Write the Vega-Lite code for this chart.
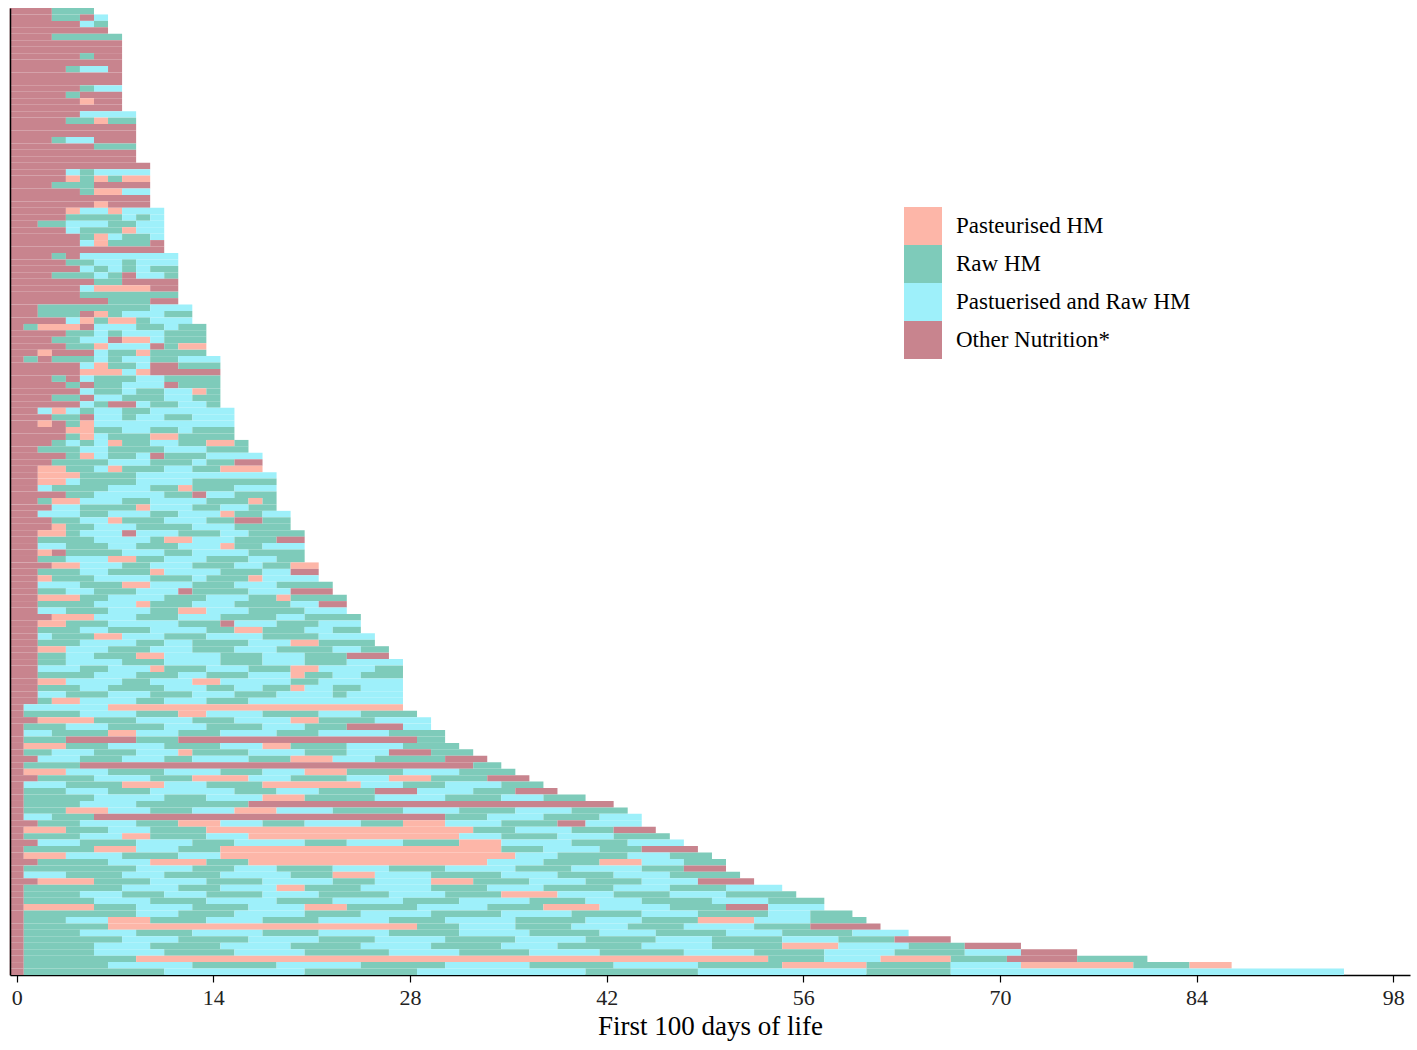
{
  "$schema": "https://vega.github.io/schema/vega-lite/v6.json",
  "width": 1400,
  "height": 967,
  "autosize": {"type": "none"},
  "padding": {"left": 10, "top": 8, "right": 7, "bottom": 75},
  "background": "white",
  "config": {
    "view": {"stroke": null},
    "font": "Liberation Serif"
  },
  "data": {
    "values": [
      {"r":0,"s":0,"e":2,"c":"O"},{"r":0,"s":3,"e":5,"c":"R"},
      {"r":1,"s":0,"e":2,"c":"O"},{"r":1,"s":3,"e":4,"c":"R"},{"r":1,"s":5,"e":5,"c":"O"},{"r":1,"s":6,"e":6,"c":"M"},
      {"r":2,"s":0,"e":4,"c":"O"},{"r":2,"s":5,"e":5,"c":"M"},{"r":2,"s":6,"e":6,"c":"R"},
      {"r":3,"s":0,"e":6,"c":"O"},
      {"r":4,"s":0,"e":2,"c":"O"},{"r":4,"s":3,"e":7,"c":"R"},
      {"r":5,"s":0,"e":7,"c":"O"},
      {"r":6,"s":0,"e":7,"c":"O"},
      {"r":7,"s":0,"e":4,"c":"O"},{"r":7,"s":5,"e":5,"c":"R"},{"r":7,"s":6,"e":7,"c":"O"},
      {"r":8,"s":0,"e":7,"c":"O"},
      {"r":9,"s":0,"e":3,"c":"O"},{"r":9,"s":4,"e":4,"c":"R"},{"r":9,"s":5,"e":6,"c":"M"},{"r":9,"s":7,"e":7,"c":"O"},
      {"r":10,"s":0,"e":7,"c":"O"},
      {"r":11,"s":0,"e":7,"c":"O"},
      {"r":12,"s":0,"e":4,"c":"O"},{"r":12,"s":5,"e":5,"c":"R"},{"r":12,"s":6,"e":7,"c":"M"},
      {"r":13,"s":0,"e":3,"c":"O"},{"r":13,"s":4,"e":4,"c":"R"},{"r":13,"s":5,"e":7,"c":"O"},
      {"r":14,"s":0,"e":4,"c":"O"},{"r":14,"s":5,"e":5,"c":"P"},{"r":14,"s":6,"e":7,"c":"O"},
      {"r":15,"s":0,"e":7,"c":"O"},
      {"r":16,"s":0,"e":4,"c":"O"},{"r":16,"s":5,"e":8,"c":"M"},
      {"r":17,"s":0,"e":3,"c":"O"},{"r":17,"s":4,"e":5,"c":"R"},{"r":17,"s":6,"e":6,"c":"P"},{"r":17,"s":7,"e":8,"c":"R"},
      {"r":18,"s":0,"e":8,"c":"O"},
      {"r":19,"s":0,"e":8,"c":"O"},
      {"r":20,"s":0,"e":2,"c":"O"},{"r":20,"s":3,"e":3,"c":"R"},{"r":20,"s":4,"e":5,"c":"M"},{"r":20,"s":6,"e":8,"c":"O"},
      {"r":21,"s":0,"e":5,"c":"O"},{"r":21,"s":6,"e":8,"c":"R"},
      {"r":22,"s":0,"e":8,"c":"O"},
      {"r":23,"s":0,"e":8,"c":"O"},
      {"r":24,"s":0,"e":9,"c":"O"},
      {"r":25,"s":0,"e":3,"c":"O"},{"r":25,"s":4,"e":4,"c":"M"},{"r":25,"s":5,"e":5,"c":"R"},{"r":25,"s":6,"e":9,"c":"M"},
      {"r":26,"s":0,"e":3,"c":"O"},{"r":26,"s":4,"e":4,"c":"P"},{"r":26,"s":5,"e":5,"c":"R"},{"r":26,"s":6,"e":6,"c":"P"},{"r":26,"s":7,"e":7,"c":"R"},{"r":26,"s":8,"e":9,"c":"P"},
      {"r":27,"s":0,"e":2,"c":"O"},{"r":27,"s":3,"e":5,"c":"R"},{"r":27,"s":6,"e":9,"c":"O"},
      {"r":28,"s":0,"e":4,"c":"O"},{"r":28,"s":5,"e":5,"c":"R"},{"r":28,"s":6,"e":7,"c":"P"},{"r":28,"s":8,"e":9,"c":"M"},
      {"r":29,"s":0,"e":9,"c":"O"},
      {"r":30,"s":0,"e":5,"c":"O"},{"r":30,"s":6,"e":6,"c":"P"},{"r":30,"s":7,"e":9,"c":"O"},
      {"r":31,"s":0,"e":3,"c":"O"},{"r":31,"s":4,"e":4,"c":"P"},{"r":31,"s":5,"e":6,"c":"M"},{"r":31,"s":7,"e":7,"c":"P"},{"r":31,"s":8,"e":10,"c":"M"},
      {"r":32,"s":0,"e":3,"c":"O"},{"r":32,"s":4,"e":7,"c":"R"},{"r":32,"s":8,"e":8,"c":"M"},{"r":32,"s":9,"e":9,"c":"R"},{"r":32,"s":10,"e":10,"c":"M"},
      {"r":33,"s":0,"e":1,"c":"O"},{"r":33,"s":2,"e":3,"c":"R"},{"r":33,"s":4,"e":6,"c":"M"},{"r":33,"s":7,"e":8,"c":"R"},{"r":33,"s":9,"e":10,"c":"M"},
      {"r":34,"s":0,"e":3,"c":"O"},{"r":34,"s":4,"e":4,"c":"M"},{"r":34,"s":5,"e":7,"c":"R"},{"r":34,"s":8,"e":8,"c":"P"},{"r":34,"s":9,"e":10,"c":"M"},
      {"r":35,"s":0,"e":4,"c":"O"},{"r":35,"s":5,"e":5,"c":"R"},{"r":35,"s":6,"e":6,"c":"P"},{"r":35,"s":7,"e":7,"c":"M"},{"r":35,"s":8,"e":9,"c":"R"},{"r":35,"s":10,"e":10,"c":"M"},
      {"r":36,"s":0,"e":4,"c":"O"},{"r":36,"s":5,"e":5,"c":"M"},{"r":36,"s":6,"e":6,"c":"P"},{"r":36,"s":7,"e":9,"c":"R"},{"r":36,"s":10,"e":10,"c":"O"},
      {"r":37,"s":0,"e":10,"c":"O"},
      {"r":38,"s":0,"e":2,"c":"O"},{"r":38,"s":3,"e":3,"c":"R"},{"r":38,"s":4,"e":4,"c":"O"},{"r":38,"s":5,"e":11,"c":"M"},
      {"r":39,"s":0,"e":3,"c":"O"},{"r":39,"s":4,"e":5,"c":"R"},{"r":39,"s":6,"e":7,"c":"M"},{"r":39,"s":8,"e":8,"c":"R"},{"r":39,"s":9,"e":11,"c":"M"},
      {"r":40,"s":0,"e":4,"c":"O"},{"r":40,"s":5,"e":5,"c":"M"},{"r":40,"s":6,"e":6,"c":"R"},{"r":40,"s":7,"e":7,"c":"M"},{"r":40,"s":8,"e":8,"c":"R"},{"r":40,"s":9,"e":9,"c":"M"},{"r":40,"s":10,"e":11,"c":"R"},
      {"r":41,"s":0,"e":2,"c":"O"},{"r":41,"s":3,"e":5,"c":"R"},{"r":41,"s":6,"e":6,"c":"M"},{"r":41,"s":7,"e":7,"c":"R"},{"r":41,"s":8,"e":8,"c":"O"},{"r":41,"s":9,"e":10,"c":"M"},{"r":41,"s":11,"e":11,"c":"R"},
      {"r":42,"s":0,"e":5,"c":"O"},{"r":42,"s":6,"e":7,"c":"R"},{"r":42,"s":8,"e":11,"c":"O"},
      {"r":43,"s":0,"e":4,"c":"O"},{"r":43,"s":5,"e":5,"c":"M"},{"r":43,"s":6,"e":9,"c":"P"},{"r":43,"s":10,"e":11,"c":"O"},
      {"r":44,"s":0,"e":4,"c":"O"},{"r":44,"s":5,"e":11,"c":"R"},
      {"r":45,"s":0,"e":6,"c":"O"},{"r":45,"s":7,"e":9,"c":"R"},{"r":45,"s":10,"e":11,"c":"O"},
      {"r":46,"s":0,"e":1,"c":"O"},{"r":46,"s":2,"e":9,"c":"R"},{"r":46,"s":10,"e":12,"c":"M"},
      {"r":47,"s":0,"e":1,"c":"O"},{"r":47,"s":2,"e":4,"c":"R"},{"r":47,"s":5,"e":5,"c":"O"},{"r":47,"s":6,"e":6,"c":"P"},{"r":47,"s":7,"e":7,"c":"R"},{"r":47,"s":8,"e":10,"c":"M"},{"r":47,"s":11,"e":12,"c":"R"},
      {"r":48,"s":0,"e":3,"c":"O"},{"r":48,"s":4,"e":4,"c":"M"},{"r":48,"s":5,"e":5,"c":"P"},{"r":48,"s":6,"e":6,"c":"R"},{"r":48,"s":7,"e":8,"c":"P"},{"r":48,"s":9,"e":9,"c":"R"},{"r":48,"s":10,"e":12,"c":"M"},
      {"r":49,"s":0,"e":0,"c":"O"},{"r":49,"s":1,"e":1,"c":"R"},{"r":49,"s":2,"e":4,"c":"P"},{"r":49,"s":5,"e":5,"c":"O"},{"r":49,"s":6,"e":8,"c":"M"},{"r":49,"s":9,"e":10,"c":"R"},{"r":49,"s":11,"e":11,"c":"M"},{"r":49,"s":12,"e":13,"c":"R"},
      {"r":50,"s":0,"e":3,"c":"O"},{"r":50,"s":4,"e":5,"c":"R"},{"r":50,"s":6,"e":6,"c":"M"},{"r":50,"s":7,"e":7,"c":"R"},{"r":50,"s":8,"e":10,"c":"M"},{"r":50,"s":11,"e":13,"c":"R"},
      {"r":51,"s":0,"e":2,"c":"O"},{"r":51,"s":3,"e":4,"c":"R"},{"r":51,"s":5,"e":6,"c":"M"},{"r":51,"s":7,"e":7,"c":"O"},{"r":51,"s":8,"e":9,"c":"P"},{"r":51,"s":10,"e":10,"c":"M"},{"r":51,"s":11,"e":13,"c":"R"},
      {"r":52,"s":0,"e":3,"c":"O"},{"r":52,"s":4,"e":5,"c":"R"},{"r":52,"s":6,"e":6,"c":"P"},{"r":52,"s":7,"e":9,"c":"M"},{"r":52,"s":10,"e":10,"c":"O"},{"r":52,"s":11,"e":11,"c":"R"},{"r":52,"s":12,"e":13,"c":"P"},
      {"r":53,"s":0,"e":1,"c":"O"},{"r":53,"s":2,"e":2,"c":"P"},{"r":53,"s":3,"e":5,"c":"O"},{"r":53,"s":6,"e":6,"c":"M"},{"r":53,"s":7,"e":8,"c":"R"},{"r":53,"s":9,"e":9,"c":"P"},{"r":53,"s":10,"e":13,"c":"R"},
      {"r":54,"s":0,"e":0,"c":"O"},{"r":54,"s":1,"e":1,"c":"R"},{"r":54,"s":2,"e":2,"c":"O"},{"r":54,"s":3,"e":5,"c":"R"},{"r":54,"s":6,"e":6,"c":"M"},{"r":54,"s":7,"e":7,"c":"R"},{"r":54,"s":8,"e":9,"c":"M"},{"r":54,"s":10,"e":11,"c":"R"},{"r":54,"s":12,"e":14,"c":"M"},
      {"r":55,"s":0,"e":4,"c":"O"},{"r":55,"s":5,"e":5,"c":"M"},{"r":55,"s":6,"e":6,"c":"P"},{"r":55,"s":7,"e":8,"c":"R"},{"r":55,"s":9,"e":9,"c":"M"},{"r":55,"s":10,"e":11,"c":"O"},{"r":55,"s":12,"e":14,"c":"R"},
      {"r":56,"s":0,"e":4,"c":"O"},{"r":56,"s":5,"e":7,"c":"P"},{"r":56,"s":8,"e":8,"c":"M"},{"r":56,"s":9,"e":9,"c":"P"},{"r":56,"s":10,"e":14,"c":"O"},
      {"r":57,"s":0,"e":2,"c":"O"},{"r":57,"s":3,"e":3,"c":"R"},{"r":57,"s":4,"e":4,"c":"O"},{"r":57,"s":5,"e":5,"c":"M"},{"r":57,"s":6,"e":8,"c":"R"},{"r":57,"s":9,"e":10,"c":"M"},{"r":57,"s":11,"e":14,"c":"R"},
      {"r":58,"s":0,"e":3,"c":"O"},{"r":58,"s":4,"e":4,"c":"R"},{"r":58,"s":5,"e":5,"c":"O"},{"r":58,"s":6,"e":7,"c":"R"},{"r":58,"s":8,"e":10,"c":"M"},{"r":58,"s":11,"e":11,"c":"O"},{"r":58,"s":12,"e":14,"c":"R"},
      {"r":59,"s":0,"e":4,"c":"O"},{"r":59,"s":5,"e":5,"c":"M"},{"r":59,"s":6,"e":7,"c":"R"},{"r":59,"s":8,"e":8,"c":"M"},{"r":59,"s":9,"e":10,"c":"R"},{"r":59,"s":11,"e":12,"c":"M"},{"r":59,"s":13,"e":13,"c":"P"},{"r":59,"s":14,"e":14,"c":"R"},
      {"r":60,"s":0,"e":2,"c":"O"},{"r":60,"s":3,"e":4,"c":"R"},{"r":60,"s":5,"e":5,"c":"O"},{"r":60,"s":6,"e":7,"c":"M"},{"r":60,"s":8,"e":10,"c":"R"},{"r":60,"s":11,"e":12,"c":"M"},{"r":60,"s":13,"e":14,"c":"R"},
      {"r":61,"s":0,"e":4,"c":"O"},{"r":61,"s":5,"e":5,"c":"M"},{"r":61,"s":6,"e":6,"c":"R"},{"r":61,"s":7,"e":8,"c":"O"},{"r":61,"s":9,"e":9,"c":"M"},{"r":61,"s":10,"e":11,"c":"R"},{"r":61,"s":12,"e":13,"c":"M"},{"r":61,"s":14,"e":14,"c":"R"},
      {"r":62,"s":0,"e":1,"c":"O"},{"r":62,"s":2,"e":2,"c":"M"},{"r":62,"s":3,"e":3,"c":"P"},{"r":62,"s":4,"e":4,"c":"M"},{"r":62,"s":5,"e":5,"c":"R"},{"r":62,"s":6,"e":7,"c":"M"},{"r":62,"s":8,"e":9,"c":"R"},{"r":62,"s":10,"e":15,"c":"M"},
      {"r":63,"s":0,"e":2,"c":"O"},{"r":63,"s":3,"e":4,"c":"R"},{"r":63,"s":5,"e":5,"c":"O"},{"r":63,"s":6,"e":7,"c":"M"},{"r":63,"s":8,"e":8,"c":"R"},{"r":63,"s":9,"e":10,"c":"M"},{"r":63,"s":11,"e":12,"c":"R"},{"r":63,"s":13,"e":15,"c":"M"},
      {"r":64,"s":0,"e":1,"c":"O"},{"r":64,"s":2,"e":2,"c":"P"},{"r":64,"s":3,"e":3,"c":"O"},{"r":64,"s":4,"e":4,"c":"R"},{"r":64,"s":5,"e":5,"c":"P"},{"r":64,"s":6,"e":15,"c":"M"},
      {"r":65,"s":0,"e":3,"c":"O"},{"r":65,"s":4,"e":5,"c":"P"},{"r":65,"s":6,"e":7,"c":"R"},{"r":65,"s":8,"e":9,"c":"M"},{"r":65,"s":10,"e":11,"c":"R"},{"r":65,"s":12,"e":12,"c":"M"},{"r":65,"s":13,"e":15,"c":"R"},
      {"r":66,"s":0,"e":3,"c":"O"},{"r":66,"s":4,"e":4,"c":"R"},{"r":66,"s":5,"e":5,"c":"P"},{"r":66,"s":6,"e":6,"c":"M"},{"r":66,"s":7,"e":9,"c":"R"},{"r":66,"s":10,"e":11,"c":"P"},{"r":66,"s":12,"e":15,"c":"R"},
      {"r":67,"s":0,"e":2,"c":"O"},{"r":67,"s":3,"e":3,"c":"R"},{"r":67,"s":4,"e":4,"c":"M"},{"r":67,"s":5,"e":5,"c":"R"},{"r":67,"s":6,"e":6,"c":"M"},{"r":67,"s":7,"e":7,"c":"P"},{"r":67,"s":8,"e":9,"c":"R"},{"r":67,"s":10,"e":11,"c":"M"},{"r":67,"s":12,"e":13,"c":"R"},{"r":67,"s":14,"e":15,"c":"P"},{"r":67,"s":16,"e":16,"c":"R"},
      {"r":68,"s":0,"e":1,"c":"O"},{"r":68,"s":2,"e":4,"c":"R"},{"r":68,"s":5,"e":6,"c":"M"},{"r":68,"s":7,"e":10,"c":"R"},{"r":68,"s":11,"e":13,"c":"M"},{"r":68,"s":14,"e":16,"c":"R"},
      {"r":69,"s":0,"e":3,"c":"O"},{"r":69,"s":4,"e":4,"c":"R"},{"r":69,"s":5,"e":5,"c":"P"},{"r":69,"s":6,"e":6,"c":"M"},{"r":69,"s":7,"e":8,"c":"R"},{"r":69,"s":9,"e":9,"c":"M"},{"r":69,"s":10,"e":10,"c":"O"},{"r":69,"s":11,"e":13,"c":"R"},{"r":69,"s":14,"e":17,"c":"M"},
      {"r":70,"s":0,"e":2,"c":"O"},{"r":70,"s":3,"e":6,"c":"R"},{"r":70,"s":7,"e":9,"c":"M"},{"r":70,"s":10,"e":12,"c":"R"},{"r":70,"s":13,"e":13,"c":"M"},{"r":70,"s":14,"e":15,"c":"R"},{"r":70,"s":16,"e":17,"c":"O"},
      {"r":71,"s":0,"e":1,"c":"O"},{"r":71,"s":2,"e":3,"c":"P"},{"r":71,"s":4,"e":5,"c":"R"},{"r":71,"s":6,"e":6,"c":"M"},{"r":71,"s":7,"e":7,"c":"P"},{"r":71,"s":8,"e":10,"c":"R"},{"r":71,"s":11,"e":12,"c":"M"},{"r":71,"s":13,"e":14,"c":"R"},{"r":71,"s":15,"e":17,"c":"P"},
      {"r":72,"s":0,"e":1,"c":"O"},{"r":72,"s":2,"e":4,"c":"P"},{"r":72,"s":5,"e":8,"c":"R"},{"r":72,"s":9,"e":18,"c":"M"},
      {"r":73,"s":0,"e":1,"c":"O"},{"r":73,"s":2,"e":3,"c":"P"},{"r":73,"s":4,"e":4,"c":"M"},{"r":73,"s":5,"e":8,"c":"R"},{"r":73,"s":9,"e":12,"c":"M"},{"r":73,"s":13,"e":18,"c":"R"},
      {"r":74,"s":0,"e":1,"c":"O"},{"r":74,"s":2,"e":2,"c":"M"},{"r":74,"s":3,"e":6,"c":"R"},{"r":74,"s":7,"e":9,"c":"M"},{"r":74,"s":10,"e":11,"c":"R"},{"r":74,"s":12,"e":12,"c":"P"},{"r":74,"s":13,"e":15,"c":"R"},{"r":74,"s":16,"e":18,"c":"M"},
      {"r":75,"s":0,"e":3,"c":"O"},{"r":75,"s":4,"e":5,"c":"R"},{"r":75,"s":6,"e":10,"c":"M"},{"r":75,"s":11,"e":12,"c":"R"},{"r":75,"s":13,"e":13,"c":"O"},{"r":75,"s":14,"e":15,"c":"M"},{"r":75,"s":16,"e":18,"c":"R"},
      {"r":76,"s":0,"e":1,"c":"O"},{"r":76,"s":2,"e":2,"c":"R"},{"r":76,"s":3,"e":4,"c":"P"},{"r":76,"s":5,"e":7,"c":"M"},{"r":76,"s":8,"e":9,"c":"R"},{"r":76,"s":10,"e":13,"c":"M"},{"r":76,"s":14,"e":16,"c":"R"},{"r":76,"s":17,"e":17,"c":"P"},{"r":76,"s":18,"e":18,"c":"R"},
      {"r":77,"s":0,"e":2,"c":"O"},{"r":77,"s":3,"e":4,"c":"M"},{"r":77,"s":5,"e":8,"c":"R"},{"r":77,"s":9,"e":9,"c":"P"},{"r":77,"s":10,"e":12,"c":"M"},{"r":77,"s":13,"e":14,"c":"R"},{"r":77,"s":15,"e":16,"c":"M"},{"r":77,"s":17,"e":18,"c":"R"},
      {"r":78,"s":0,"e":1,"c":"O"},{"r":78,"s":2,"e":4,"c":"M"},{"r":78,"s":5,"e":6,"c":"R"},{"r":78,"s":7,"e":9,"c":"M"},{"r":78,"s":10,"e":11,"c":"R"},{"r":78,"s":12,"e":14,"c":"M"},{"r":78,"s":15,"e":15,"c":"P"},{"r":78,"s":16,"e":17,"c":"R"},{"r":78,"s":18,"e":19,"c":"M"},
      {"r":79,"s":0,"e":2,"c":"O"},{"r":79,"s":3,"e":4,"c":"R"},{"r":79,"s":5,"e":6,"c":"M"},{"r":79,"s":7,"e":7,"c":"P"},{"r":79,"s":8,"e":10,"c":"R"},{"r":79,"s":11,"e":13,"c":"M"},{"r":79,"s":14,"e":15,"c":"R"},{"r":79,"s":16,"e":17,"c":"O"},{"r":79,"s":18,"e":19,"c":"R"},
      {"r":80,"s":0,"e":2,"c":"O"},{"r":80,"s":3,"e":3,"c":"P"},{"r":80,"s":4,"e":5,"c":"R"},{"r":80,"s":6,"e":8,"c":"M"},{"r":80,"s":9,"e":12,"c":"R"},{"r":80,"s":13,"e":15,"c":"M"},{"r":80,"s":16,"e":19,"c":"R"},
      {"r":81,"s":0,"e":1,"c":"O"},{"r":81,"s":2,"e":3,"c":"P"},{"r":81,"s":4,"e":4,"c":"R"},{"r":81,"s":5,"e":7,"c":"M"},{"r":81,"s":8,"e":8,"c":"O"},{"r":81,"s":9,"e":11,"c":"M"},{"r":81,"s":12,"e":14,"c":"R"},{"r":81,"s":15,"e":16,"c":"M"},{"r":81,"s":17,"e":20,"c":"R"},
      {"r":82,"s":0,"e":1,"c":"O"},{"r":82,"s":2,"e":5,"c":"R"},{"r":82,"s":6,"e":9,"c":"M"},{"r":82,"s":10,"e":10,"c":"R"},{"r":82,"s":11,"e":12,"c":"P"},{"r":82,"s":13,"e":15,"c":"M"},{"r":82,"s":16,"e":18,"c":"R"},{"r":82,"s":19,"e":20,"c":"O"},
      {"r":83,"s":0,"e":1,"c":"O"},{"r":83,"s":2,"e":3,"c":"M"},{"r":83,"s":4,"e":6,"c":"R"},{"r":83,"s":7,"e":8,"c":"M"},{"r":83,"s":9,"e":11,"c":"R"},{"r":83,"s":12,"e":14,"c":"M"},{"r":83,"s":15,"e":15,"c":"P"},{"r":83,"s":16,"e":17,"c":"R"},{"r":83,"s":18,"e":20,"c":"M"},
      {"r":84,"s":0,"e":1,"c":"O"},{"r":84,"s":2,"e":2,"c":"P"},{"r":84,"s":3,"e":3,"c":"O"},{"r":84,"s":4,"e":7,"c":"R"},{"r":84,"s":8,"e":10,"c":"M"},{"r":84,"s":11,"e":12,"c":"R"},{"r":84,"s":13,"e":16,"c":"M"},{"r":84,"s":17,"e":20,"c":"R"},
      {"r":85,"s":0,"e":1,"c":"O"},{"r":85,"s":2,"e":3,"c":"R"},{"r":85,"s":4,"e":6,"c":"M"},{"r":85,"s":7,"e":8,"c":"P"},{"r":85,"s":9,"e":10,"c":"R"},{"r":85,"s":11,"e":13,"c":"M"},{"r":85,"s":14,"e":16,"c":"R"},{"r":85,"s":17,"e":18,"c":"M"},{"r":85,"s":19,"e":20,"c":"R"},
      {"r":86,"s":0,"e":2,"c":"O"},{"r":86,"s":3,"e":4,"c":"P"},{"r":86,"s":5,"e":7,"c":"M"},{"r":86,"s":8,"e":9,"c":"R"},{"r":86,"s":10,"e":12,"c":"M"},{"r":86,"s":13,"e":15,"c":"R"},{"r":86,"s":16,"e":17,"c":"M"},{"r":86,"s":18,"e":19,"c":"R"},{"r":86,"s":20,"e":21,"c":"P"},
      {"r":87,"s":0,"e":1,"c":"O"},{"r":87,"s":2,"e":4,"c":"R"},{"r":87,"s":5,"e":6,"c":"M"},{"r":87,"s":7,"e":9,"c":"R"},{"r":87,"s":10,"e":10,"c":"P"},{"r":87,"s":11,"e":14,"c":"M"},{"r":87,"s":15,"e":17,"c":"R"},{"r":87,"s":18,"e":19,"c":"M"},{"r":87,"s":20,"e":21,"c":"O"},
      {"r":88,"s":0,"e":1,"c":"O"},{"r":88,"s":2,"e":2,"c":"P"},{"r":88,"s":3,"e":5,"c":"R"},{"r":88,"s":6,"e":9,"c":"M"},{"r":88,"s":10,"e":12,"c":"R"},{"r":88,"s":13,"e":13,"c":"M"},{"r":88,"s":14,"e":16,"c":"R"},{"r":88,"s":17,"e":17,"c":"P"},{"r":88,"s":18,"e":21,"c":"M"},
      {"r":89,"s":0,"e":1,"c":"O"},{"r":89,"s":2,"e":4,"c":"M"},{"r":89,"s":5,"e":7,"c":"R"},{"r":89,"s":8,"e":9,"c":"P"},{"r":89,"s":10,"e":12,"c":"M"},{"r":89,"s":13,"e":15,"c":"R"},{"r":89,"s":16,"e":18,"c":"M"},{"r":89,"s":19,"e":22,"c":"R"},
      {"r":90,"s":0,"e":1,"c":"O"},{"r":90,"s":2,"e":3,"c":"R"},{"r":90,"s":4,"e":5,"c":"M"},{"r":90,"s":6,"e":8,"c":"R"},{"r":90,"s":9,"e":11,"c":"M"},{"r":90,"s":12,"e":12,"c":"O"},{"r":90,"s":13,"e":16,"c":"R"},{"r":90,"s":17,"e":19,"c":"M"},{"r":90,"s":20,"e":22,"c":"O"},
      {"r":91,"s":0,"e":1,"c":"O"},{"r":91,"s":2,"e":4,"c":"P"},{"r":91,"s":5,"e":6,"c":"R"},{"r":91,"s":7,"e":10,"c":"M"},{"r":91,"s":11,"e":13,"c":"R"},{"r":91,"s":14,"e":16,"c":"M"},{"r":91,"s":17,"e":18,"c":"R"},{"r":91,"s":19,"e":19,"c":"P"},{"r":91,"s":20,"e":23,"c":"R"},
      {"r":92,"s":0,"e":1,"c":"O"},{"r":92,"s":2,"e":5,"c":"R"},{"r":92,"s":6,"e":8,"c":"M"},{"r":92,"s":9,"e":9,"c":"P"},{"r":92,"s":10,"e":12,"c":"R"},{"r":92,"s":13,"e":15,"c":"M"},{"r":92,"s":16,"e":19,"c":"R"},{"r":92,"s":20,"e":21,"c":"M"},{"r":92,"s":22,"e":23,"c":"O"},
      {"r":93,"s":0,"e":1,"c":"O"},{"r":93,"s":2,"e":3,"c":"M"},{"r":93,"s":4,"e":6,"c":"R"},{"r":93,"s":7,"e":9,"c":"M"},{"r":93,"s":10,"e":11,"c":"R"},{"r":93,"s":12,"e":13,"c":"P"},{"r":93,"s":14,"e":16,"c":"M"},{"r":93,"s":17,"e":20,"c":"R"},{"r":93,"s":21,"e":23,"c":"M"},
      {"r":94,"s":0,"e":2,"c":"O"},{"r":94,"s":3,"e":5,"c":"P"},{"r":94,"s":6,"e":8,"c":"M"},{"r":94,"s":9,"e":11,"c":"R"},{"r":94,"s":12,"e":14,"c":"M"},{"r":94,"s":15,"e":18,"c":"R"},{"r":94,"s":19,"e":20,"c":"M"},{"r":94,"s":21,"e":24,"c":"R"},
      {"r":95,"s":0,"e":1,"c":"O"},{"r":95,"s":2,"e":3,"c":"P"},{"r":95,"s":4,"e":6,"c":"R"},{"r":95,"s":7,"e":11,"c":"M"},{"r":95,"s":12,"e":14,"c":"R"},{"r":95,"s":15,"e":15,"c":"O"},{"r":95,"s":16,"e":18,"c":"M"},{"r":95,"s":19,"e":21,"c":"R"},{"r":95,"s":22,"e":24,"c":"M"},
      {"r":96,"s":0,"e":1,"c":"O"},{"r":96,"s":2,"e":4,"c":"R"},{"r":96,"s":5,"e":6,"c":"M"},{"r":96,"s":7,"e":9,"c":"R"},{"r":96,"s":10,"e":13,"c":"M"},{"r":96,"s":14,"e":15,"c":"R"},{"r":96,"s":16,"e":17,"c":"P"},{"r":96,"s":18,"e":20,"c":"R"},{"r":96,"s":21,"e":22,"c":"M"},{"r":96,"s":23,"e":24,"c":"R"},
      {"r":97,"s":0,"e":1,"c":"O"},{"r":97,"s":2,"e":2,"c":"M"},{"r":97,"s":3,"e":5,"c":"R"},{"r":97,"s":6,"e":7,"c":"P"},{"r":97,"s":8,"e":10,"c":"M"},{"r":97,"s":11,"e":13,"c":"R"},{"r":97,"s":14,"e":17,"c":"M"},{"r":97,"s":18,"e":21,"c":"R"},{"r":97,"s":22,"e":25,"c":"M"},
      {"r":98,"s":0,"e":1,"c":"O"},{"r":98,"s":2,"e":4,"c":"R"},{"r":98,"s":5,"e":8,"c":"M"},{"r":98,"s":9,"e":10,"c":"R"},{"r":98,"s":11,"e":12,"c":"M"},{"r":98,"s":13,"e":16,"c":"R"},{"r":98,"s":17,"e":19,"c":"M"},{"r":98,"s":20,"e":21,"c":"P"},{"r":98,"s":22,"e":25,"c":"R"},
      {"r":99,"s":0,"e":1,"c":"O"},{"r":99,"s":2,"e":3,"c":"P"},{"r":99,"s":4,"e":6,"c":"M"},{"r":99,"s":7,"e":9,"c":"R"},{"r":99,"s":10,"e":12,"c":"M"},{"r":99,"s":13,"e":15,"c":"R"},{"r":99,"s":16,"e":18,"c":"M"},{"r":99,"s":19,"e":22,"c":"R"},{"r":99,"s":23,"e":24,"c":"M"},{"r":99,"s":25,"e":26,"c":"R"},
      {"r":100,"s":0,"e":1,"c":"O"},{"r":100,"s":2,"e":3,"c":"R"},{"r":100,"s":4,"e":5,"c":"M"},{"r":100,"s":6,"e":8,"c":"R"},{"r":100,"s":9,"e":10,"c":"P"},{"r":100,"s":11,"e":14,"c":"M"},{"r":100,"s":15,"e":17,"c":"R"},{"r":100,"s":18,"e":20,"c":"M"},{"r":100,"s":21,"e":23,"c":"R"},{"r":100,"s":24,"e":26,"c":"O"},
      {"r":101,"s":0,"e":1,"c":"O"},{"r":101,"s":2,"e":3,"c":"R"},{"r":101,"s":4,"e":7,"c":"M"},{"r":101,"s":8,"e":10,"c":"R"},{"r":101,"s":11,"e":14,"c":"M"},{"r":101,"s":15,"e":17,"c":"R"},{"r":101,"s":18,"e":20,"c":"M"},{"r":101,"s":21,"e":23,"c":"R"},{"r":101,"s":24,"e":27,"c":"M"},
      {"r":102,"s":0,"e":1,"c":"O"},{"r":102,"s":2,"e":4,"c":"M"},{"r":102,"s":5,"e":6,"c":"R"},{"r":102,"s":7,"e":9,"c":"M"},{"r":102,"s":10,"e":10,"c":"P"},{"r":102,"s":11,"e":13,"c":"R"},{"r":102,"s":14,"e":16,"c":"M"},{"r":102,"s":17,"e":19,"c":"R"},{"r":102,"s":20,"e":21,"c":"P"},{"r":102,"s":22,"e":25,"c":"M"},{"r":102,"s":26,"e":27,"c":"R"},
      {"r":103,"s":0,"e":1,"c":"O"},{"r":103,"s":2,"e":5,"c":"R"},{"r":103,"s":6,"e":8,"c":"M"},{"r":103,"s":9,"e":11,"c":"R"},{"r":103,"s":12,"e":13,"c":"M"},{"r":103,"s":14,"e":16,"c":"R"},{"r":103,"s":17,"e":19,"c":"M"},{"r":103,"s":20,"e":20,"c":"P"},{"r":103,"s":21,"e":22,"c":"R"},{"r":103,"s":23,"e":24,"c":"M"},{"r":103,"s":25,"e":27,"c":"R"},
      {"r":104,"s":0,"e":1,"c":"O"},{"r":104,"s":2,"e":3,"c":"P"},{"r":104,"s":4,"e":7,"c":"M"},{"r":104,"s":8,"e":9,"c":"R"},{"r":104,"s":10,"e":12,"c":"M"},{"r":104,"s":13,"e":14,"c":"P"},{"r":104,"s":15,"e":19,"c":"M"},{"r":104,"s":20,"e":21,"c":"R"},{"r":104,"s":22,"e":27,"c":"M"},
      {"r":105,"s":0,"e":1,"c":"O"},{"r":105,"s":2,"e":4,"c":"R"},{"r":105,"s":5,"e":6,"c":"M"},{"r":105,"s":7,"e":10,"c":"R"},{"r":105,"s":11,"e":13,"c":"M"},{"r":105,"s":14,"e":15,"c":"R"},{"r":105,"s":16,"e":17,"c":"M"},{"r":105,"s":18,"e":19,"c":"R"},{"r":105,"s":20,"e":20,"c":"P"},{"r":105,"s":21,"e":22,"c":"M"},{"r":105,"s":23,"e":24,"c":"R"},{"r":105,"s":25,"e":27,"c":"M"},
      {"r":106,"s":0,"e":1,"c":"O"},{"r":106,"s":2,"e":3,"c":"M"},{"r":106,"s":4,"e":6,"c":"R"},{"r":106,"s":7,"e":9,"c":"M"},{"r":106,"s":10,"e":12,"c":"R"},{"r":106,"s":13,"e":15,"c":"M"},{"r":106,"s":16,"e":18,"c":"R"},{"r":106,"s":19,"e":22,"c":"M"},{"r":106,"s":23,"e":23,"c":"R"},{"r":106,"s":24,"e":27,"c":"M"},
      {"r":107,"s":0,"e":1,"c":"O"},{"r":107,"s":2,"e":2,"c":"R"},{"r":107,"s":3,"e":4,"c":"P"},{"r":107,"s":5,"e":8,"c":"M"},{"r":107,"s":9,"e":10,"c":"R"},{"r":107,"s":11,"e":13,"c":"M"},{"r":107,"s":14,"e":16,"c":"R"},{"r":107,"s":17,"e":27,"c":"M"},
      {"r":108,"s":0,"e":0,"c":"O"},{"r":108,"s":1,"e":6,"c":"M"},{"r":108,"s":7,"e":27,"c":"P"},
      {"r":109,"s":0,"e":0,"c":"O"},{"r":109,"s":1,"e":4,"c":"R"},{"r":109,"s":5,"e":8,"c":"M"},{"r":109,"s":9,"e":11,"c":"R"},{"r":109,"s":12,"e":13,"c":"P"},{"r":109,"s":14,"e":17,"c":"M"},{"r":109,"s":18,"e":21,"c":"R"},{"r":109,"s":22,"e":24,"c":"M"},{"r":109,"s":25,"e":28,"c":"R"},
      {"r":110,"s":0,"e":1,"c":"O"},{"r":110,"s":2,"e":5,"c":"P"},{"r":110,"s":6,"e":8,"c":"R"},{"r":110,"s":9,"e":12,"c":"M"},{"r":110,"s":13,"e":15,"c":"R"},{"r":110,"s":16,"e":19,"c":"M"},{"r":110,"s":20,"e":21,"c":"P"},{"r":110,"s":22,"e":25,"c":"R"},{"r":110,"s":26,"e":29,"c":"M"},
      {"r":111,"s":0,"e":0,"c":"O"},{"r":111,"s":1,"e":3,"c":"R"},{"r":111,"s":4,"e":6,"c":"M"},{"r":111,"s":7,"e":10,"c":"R"},{"r":111,"s":11,"e":13,"c":"M"},{"r":111,"s":14,"e":17,"c":"R"},{"r":111,"s":18,"e":20,"c":"M"},{"r":111,"s":21,"e":23,"c":"R"},{"r":111,"s":24,"e":27,"c":"O"},{"r":111,"s":28,"e":29,"c":"M"},
      {"r":112,"s":0,"e":0,"c":"O"},{"r":112,"s":1,"e":2,"c":"M"},{"r":112,"s":3,"e":6,"c":"R"},{"r":112,"s":7,"e":8,"c":"P"},{"r":112,"s":9,"e":11,"c":"M"},{"r":112,"s":12,"e":14,"c":"R"},{"r":112,"s":15,"e":18,"c":"M"},{"r":112,"s":19,"e":21,"c":"R"},{"r":112,"s":22,"e":26,"c":"M"},{"r":112,"s":27,"e":30,"c":"R"},
      {"r":113,"s":0,"e":0,"c":"O"},{"r":113,"s":1,"e":3,"c":"R"},{"r":113,"s":4,"e":8,"c":"O"},{"r":113,"s":9,"e":11,"c":"R"},{"r":113,"s":12,"e":28,"c":"O"},{"r":113,"s":29,"e":30,"c":"R"},
      {"r":114,"s":0,"e":0,"c":"O"},{"r":114,"s":1,"e":3,"c":"P"},{"r":114,"s":4,"e":6,"c":"R"},{"r":114,"s":7,"e":10,"c":"M"},{"r":114,"s":11,"e":14,"c":"R"},{"r":114,"s":15,"e":17,"c":"M"},{"r":114,"s":18,"e":19,"c":"P"},{"r":114,"s":20,"e":23,"c":"R"},{"r":114,"s":24,"e":27,"c":"M"},{"r":114,"s":28,"e":31,"c":"R"},
      {"r":115,"s":0,"e":0,"c":"O"},{"r":115,"s":1,"e":2,"c":"R"},{"r":115,"s":3,"e":5,"c":"M"},{"r":115,"s":6,"e":8,"c":"R"},{"r":115,"s":9,"e":11,"c":"M"},{"r":115,"s":12,"e":12,"c":"P"},{"r":115,"s":13,"e":16,"c":"R"},{"r":115,"s":17,"e":20,"c":"M"},{"r":115,"s":21,"e":23,"c":"R"},{"r":115,"s":24,"e":26,"c":"M"},{"r":115,"s":27,"e":29,"c":"O"},{"r":115,"s":30,"e":32,"c":"R"},
      {"r":116,"s":0,"e":1,"c":"O"},{"r":116,"s":2,"e":4,"c":"M"},{"r":116,"s":5,"e":7,"c":"R"},{"r":116,"s":8,"e":10,"c":"M"},{"r":116,"s":11,"e":12,"c":"R"},{"r":116,"s":13,"e":16,"c":"M"},{"r":116,"s":17,"e":19,"c":"R"},{"r":116,"s":20,"e":22,"c":"P"},{"r":116,"s":23,"e":25,"c":"M"},{"r":116,"s":26,"e":30,"c":"R"},{"r":116,"s":31,"e":33,"c":"O"},
      {"r":117,"s":0,"e":0,"c":"O"},{"r":117,"s":1,"e":4,"c":"R"},{"r":117,"s":5,"e":32,"c":"O"},{"r":117,"s":33,"e":34,"c":"R"},
      {"r":118,"s":0,"e":0,"c":"O"},{"r":118,"s":1,"e":3,"c":"P"},{"r":118,"s":4,"e":6,"c":"M"},{"r":118,"s":7,"e":10,"c":"R"},{"r":118,"s":11,"e":14,"c":"M"},{"r":118,"s":15,"e":17,"c":"R"},{"r":118,"s":18,"e":20,"c":"M"},{"r":118,"s":21,"e":23,"c":"P"},{"r":118,"s":24,"e":27,"c":"R"},{"r":118,"s":28,"e":31,"c":"M"},{"r":118,"s":32,"e":35,"c":"R"},
      {"r":119,"s":0,"e":1,"c":"O"},{"r":119,"s":2,"e":5,"c":"R"},{"r":119,"s":6,"e":9,"c":"M"},{"r":119,"s":10,"e":12,"c":"R"},{"r":119,"s":13,"e":16,"c":"P"},{"r":119,"s":17,"e":19,"c":"M"},{"r":119,"s":20,"e":23,"c":"R"},{"r":119,"s":24,"e":26,"c":"M"},{"r":119,"s":27,"e":29,"c":"P"},{"r":119,"s":30,"e":33,"c":"R"},{"r":119,"s":34,"e":36,"c":"O"},
      {"r":120,"s":0,"e":0,"c":"O"},{"r":120,"s":1,"e":3,"c":"M"},{"r":120,"s":4,"e":7,"c":"R"},{"r":120,"s":8,"e":10,"c":"P"},{"r":120,"s":11,"e":13,"c":"M"},{"r":120,"s":14,"e":17,"c":"R"},{"r":120,"s":18,"e":24,"c":"P"},{"r":120,"s":25,"e":27,"c":"M"},{"r":120,"s":28,"e":30,"c":"R"},{"r":120,"s":31,"e":34,"c":"M"},{"r":120,"s":35,"e":37,"c":"R"},
      {"r":121,"s":0,"e":0,"c":"O"},{"r":121,"s":1,"e":3,"c":"R"},{"r":121,"s":4,"e":6,"c":"M"},{"r":121,"s":7,"e":9,"c":"R"},{"r":121,"s":10,"e":15,"c":"M"},{"r":121,"s":16,"e":18,"c":"R"},{"r":121,"s":19,"e":21,"c":"M"},{"r":121,"s":22,"e":25,"c":"R"},{"r":121,"s":26,"e":28,"c":"O"},{"r":121,"s":29,"e":32,"c":"M"},{"r":121,"s":33,"e":35,"c":"R"},{"r":121,"s":36,"e":38,"c":"O"},
      {"r":122,"s":0,"e":0,"c":"O"},{"r":122,"s":1,"e":5,"c":"R"},{"r":122,"s":6,"e":10,"c":"M"},{"r":122,"s":11,"e":13,"c":"R"},{"r":122,"s":14,"e":17,"c":"M"},{"r":122,"s":18,"e":20,"c":"P"},{"r":122,"s":21,"e":25,"c":"R"},{"r":122,"s":26,"e":30,"c":"M"},{"r":122,"s":31,"e":34,"c":"R"},{"r":122,"s":35,"e":37,"c":"M"},{"r":122,"s":38,"e":40,"c":"R"},
      {"r":123,"s":0,"e":0,"c":"O"},{"r":123,"s":1,"e":4,"c":"R"},{"r":123,"s":5,"e":8,"c":"M"},{"r":123,"s":9,"e":16,"c":"R"},{"r":123,"s":17,"e":42,"c":"O"},
      {"r":124,"s":0,"e":0,"c":"O"},{"r":124,"s":1,"e":3,"c":"R"},{"r":124,"s":4,"e":6,"c":"P"},{"r":124,"s":7,"e":9,"c":"M"},{"r":124,"s":10,"e":12,"c":"R"},{"r":124,"s":13,"e":15,"c":"M"},{"r":124,"s":16,"e":18,"c":"P"},{"r":124,"s":19,"e":22,"c":"M"},{"r":124,"s":23,"e":27,"c":"R"},{"r":124,"s":28,"e":31,"c":"M"},{"r":124,"s":32,"e":35,"c":"R"},{"r":124,"s":36,"e":39,"c":"M"},{"r":124,"s":40,"e":43,"c":"R"},
      {"r":125,"s":0,"e":0,"c":"O"},{"r":125,"s":1,"e":2,"c":"M"},{"r":125,"s":3,"e":5,"c":"R"},{"r":125,"s":6,"e":30,"c":"O"},{"r":125,"s":31,"e":33,"c":"R"},{"r":125,"s":34,"e":37,"c":"M"},{"r":125,"s":38,"e":41,"c":"R"},{"r":125,"s":42,"e":44,"c":"M"},
      {"r":126,"s":0,"e":1,"c":"O"},{"r":126,"s":2,"e":4,"c":"R"},{"r":126,"s":5,"e":8,"c":"M"},{"r":126,"s":9,"e":11,"c":"R"},{"r":126,"s":12,"e":14,"c":"P"},{"r":126,"s":15,"e":17,"c":"M"},{"r":126,"s":18,"e":20,"c":"R"},{"r":126,"s":21,"e":24,"c":"M"},{"r":126,"s":25,"e":27,"c":"R"},{"r":126,"s":28,"e":30,"c":"P"},{"r":126,"s":31,"e":34,"c":"M"},{"r":126,"s":35,"e":38,"c":"R"},{"r":126,"s":39,"e":40,"c":"O"},{"r":126,"s":41,"e":44,"c":"M"},
      {"r":127,"s":0,"e":0,"c":"O"},{"r":127,"s":1,"e":3,"c":"P"},{"r":127,"s":4,"e":6,"c":"R"},{"r":127,"s":7,"e":9,"c":"M"},{"r":127,"s":10,"e":13,"c":"R"},{"r":127,"s":14,"e":32,"c":"P"},{"r":127,"s":33,"e":35,"c":"R"},{"r":127,"s":36,"e":39,"c":"M"},{"r":127,"s":40,"e":42,"c":"R"},{"r":127,"s":43,"e":45,"c":"O"},
      {"r":128,"s":0,"e":0,"c":"O"},{"r":128,"s":1,"e":4,"c":"R"},{"r":128,"s":5,"e":7,"c":"M"},{"r":128,"s":8,"e":9,"c":"P"},{"r":128,"s":10,"e":13,"c":"R"},{"r":128,"s":14,"e":16,"c":"M"},{"r":128,"s":17,"e":31,"c":"P"},{"r":128,"s":32,"e":34,"c":"M"},{"r":128,"s":35,"e":38,"c":"R"},{"r":128,"s":39,"e":42,"c":"M"},{"r":128,"s":43,"e":46,"c":"R"},
      {"r":129,"s":0,"e":1,"c":"O"},{"r":129,"s":2,"e":4,"c":"M"},{"r":129,"s":5,"e":8,"c":"R"},{"r":129,"s":9,"e":12,"c":"M"},{"r":129,"s":13,"e":15,"c":"R"},{"r":129,"s":16,"e":20,"c":"M"},{"r":129,"s":21,"e":23,"c":"R"},{"r":129,"s":24,"e":27,"c":"M"},{"r":129,"s":28,"e":31,"c":"R"},{"r":129,"s":32,"e":34,"c":"P"},{"r":129,"s":35,"e":39,"c":"M"},{"r":129,"s":40,"e":43,"c":"R"},{"r":129,"s":44,"e":47,"c":"M"},
      {"r":130,"s":0,"e":0,"c":"O"},{"r":130,"s":1,"e":5,"c":"R"},{"r":130,"s":6,"e":8,"c":"P"},{"r":130,"s":9,"e":11,"c":"M"},{"r":130,"s":12,"e":14,"c":"R"},{"r":130,"s":15,"e":34,"c":"P"},{"r":130,"s":35,"e":37,"c":"R"},{"r":130,"s":38,"e":41,"c":"M"},{"r":130,"s":42,"e":44,"c":"R"},{"r":130,"s":45,"e":48,"c":"O"},
      {"r":131,"s":0,"e":0,"c":"O"},{"r":131,"s":1,"e":3,"c":"P"},{"r":131,"s":4,"e":7,"c":"M"},{"r":131,"s":8,"e":11,"c":"R"},{"r":131,"s":12,"e":14,"c":"M"},{"r":131,"s":15,"e":35,"c":"P"},{"r":131,"s":36,"e":38,"c":"M"},{"r":131,"s":39,"e":43,"c":"R"},{"r":131,"s":44,"e":46,"c":"M"},{"r":131,"s":47,"e":49,"c":"R"},
      {"r":132,"s":0,"e":1,"c":"O"},{"r":132,"s":2,"e":6,"c":"R"},{"r":132,"s":7,"e":9,"c":"M"},{"r":132,"s":10,"e":13,"c":"P"},{"r":132,"s":14,"e":16,"c":"R"},{"r":132,"s":17,"e":33,"c":"P"},{"r":132,"s":34,"e":37,"c":"M"},{"r":132,"s":38,"e":41,"c":"R"},{"r":132,"s":42,"e":44,"c":"P"},{"r":132,"s":45,"e":47,"c":"M"},{"r":132,"s":48,"e":50,"c":"R"},
      {"r":133,"s":0,"e":0,"c":"O"},{"r":133,"s":1,"e":8,"c":"R"},{"r":133,"s":9,"e":12,"c":"M"},{"r":133,"s":13,"e":15,"c":"R"},{"r":133,"s":16,"e":18,"c":"M"},{"r":133,"s":19,"e":22,"c":"R"},{"r":133,"s":23,"e":26,"c":"M"},{"r":133,"s":27,"e":30,"c":"R"},{"r":133,"s":31,"e":35,"c":"M"},{"r":133,"s":36,"e":39,"c":"R"},{"r":133,"s":40,"e":44,"c":"M"},{"r":133,"s":45,"e":47,"c":"R"},{"r":133,"s":48,"e":50,"c":"O"},
      {"r":134,"s":0,"e":0,"c":"O"},{"r":134,"s":1,"e":3,"c":"M"},{"r":134,"s":4,"e":7,"c":"R"},{"r":134,"s":8,"e":10,"c":"M"},{"r":134,"s":11,"e":14,"c":"R"},{"r":134,"s":15,"e":19,"c":"M"},{"r":134,"s":20,"e":22,"c":"R"},{"r":134,"s":23,"e":25,"c":"P"},{"r":134,"s":26,"e":29,"c":"M"},{"r":134,"s":30,"e":34,"c":"R"},{"r":134,"s":35,"e":38,"c":"M"},{"r":134,"s":39,"e":42,"c":"R"},{"r":134,"s":43,"e":46,"c":"M"},{"r":134,"s":47,"e":51,"c":"R"},
      {"r":135,"s":0,"e":1,"c":"O"},{"r":135,"s":2,"e":5,"c":"P"},{"r":135,"s":6,"e":9,"c":"R"},{"r":135,"s":10,"e":13,"c":"M"},{"r":135,"s":14,"e":17,"c":"R"},{"r":135,"s":18,"e":22,"c":"M"},{"r":135,"s":23,"e":25,"c":"R"},{"r":135,"s":26,"e":29,"c":"M"},{"r":135,"s":30,"e":32,"c":"P"},{"r":135,"s":33,"e":36,"c":"R"},{"r":135,"s":37,"e":40,"c":"M"},{"r":135,"s":41,"e":44,"c":"R"},{"r":135,"s":45,"e":48,"c":"M"},{"r":135,"s":49,"e":52,"c":"O"},
      {"r":136,"s":0,"e":0,"c":"O"},{"r":136,"s":1,"e":7,"c":"R"},{"r":136,"s":8,"e":11,"c":"M"},{"r":136,"s":12,"e":14,"c":"R"},{"r":136,"s":15,"e":18,"c":"M"},{"r":136,"s":19,"e":20,"c":"P"},{"r":136,"s":21,"e":24,"c":"R"},{"r":136,"s":25,"e":29,"c":"M"},{"r":136,"s":30,"e":33,"c":"R"},{"r":136,"s":34,"e":37,"c":"M"},{"r":136,"s":38,"e":42,"c":"R"},{"r":136,"s":43,"e":46,"c":"M"},{"r":136,"s":47,"e":50,"c":"R"},{"r":136,"s":51,"e":54,"c":"M"},
      {"r":137,"s":0,"e":0,"c":"O"},{"r":137,"s":1,"e":4,"c":"R"},{"r":137,"s":5,"e":7,"c":"M"},{"r":137,"s":8,"e":10,"c":"R"},{"r":137,"s":11,"e":13,"c":"M"},{"r":137,"s":14,"e":17,"c":"R"},{"r":137,"s":18,"e":21,"c":"M"},{"r":137,"s":22,"e":26,"c":"R"},{"r":137,"s":27,"e":30,"c":"M"},{"r":137,"s":31,"e":34,"c":"R"},{"r":137,"s":35,"e":38,"c":"P"},{"r":137,"s":39,"e":42,"c":"M"},{"r":137,"s":43,"e":46,"c":"R"},{"r":137,"s":47,"e":50,"c":"M"},{"r":137,"s":51,"e":55,"c":"R"},
      {"r":138,"s":0,"e":0,"c":"O"},{"r":138,"s":1,"e":5,"c":"R"},{"r":138,"s":6,"e":9,"c":"M"},{"r":138,"s":10,"e":13,"c":"R"},{"r":138,"s":14,"e":18,"c":"M"},{"r":138,"s":19,"e":22,"c":"R"},{"r":138,"s":23,"e":27,"c":"M"},{"r":138,"s":28,"e":31,"c":"R"},{"r":138,"s":32,"e":36,"c":"M"},{"r":138,"s":37,"e":40,"c":"R"},{"r":138,"s":41,"e":44,"c":"M"},{"r":138,"s":45,"e":49,"c":"R"},{"r":138,"s":50,"e":53,"c":"M"},{"r":138,"s":54,"e":57,"c":"R"},
      {"r":139,"s":0,"e":0,"c":"O"},{"r":139,"s":1,"e":5,"c":"P"},{"r":139,"s":6,"e":8,"c":"R"},{"r":139,"s":9,"e":12,"c":"M"},{"r":139,"s":13,"e":16,"c":"R"},{"r":139,"s":17,"e":20,"c":"M"},{"r":139,"s":21,"e":23,"c":"P"},{"r":139,"s":24,"e":28,"c":"R"},{"r":139,"s":29,"e":33,"c":"M"},{"r":139,"s":34,"e":37,"c":"R"},{"r":139,"s":38,"e":41,"c":"P"},{"r":139,"s":42,"e":46,"c":"M"},{"r":139,"s":47,"e":50,"c":"R"},{"r":139,"s":51,"e":53,"c":"O"},{"r":139,"s":54,"e":57,"c":"M"},
      {"r":140,"s":0,"e":0,"c":"O"},{"r":140,"s":1,"e":8,"c":"R"},{"r":140,"s":9,"e":11,"c":"M"},{"r":140,"s":12,"e":15,"c":"R"},{"r":140,"s":16,"e":20,"c":"M"},{"r":140,"s":21,"e":24,"c":"R"},{"r":140,"s":25,"e":29,"c":"M"},{"r":140,"s":30,"e":34,"c":"R"},{"r":140,"s":35,"e":39,"c":"M"},{"r":140,"s":40,"e":44,"c":"R"},{"r":140,"s":45,"e":48,"c":"M"},{"r":140,"s":49,"e":53,"c":"R"},{"r":140,"s":54,"e":56,"c":"M"},{"r":140,"s":57,"e":59,"c":"R"},
      {"r":141,"s":0,"e":0,"c":"O"},{"r":141,"s":1,"e":3,"c":"R"},{"r":141,"s":4,"e":6,"c":"M"},{"r":141,"s":7,"e":9,"c":"P"},{"r":141,"s":10,"e":13,"c":"R"},{"r":141,"s":14,"e":17,"c":"M"},{"r":141,"s":18,"e":21,"c":"R"},{"r":141,"s":22,"e":26,"c":"M"},{"r":141,"s":27,"e":30,"c":"R"},{"r":141,"s":31,"e":35,"c":"M"},{"r":141,"s":36,"e":40,"c":"R"},{"r":141,"s":41,"e":44,"c":"M"},{"r":141,"s":45,"e":48,"c":"R"},{"r":141,"s":49,"e":52,"c":"P"},{"r":141,"s":53,"e":56,"c":"M"},{"r":141,"s":57,"e":60,"c":"R"},
      {"r":142,"s":0,"e":0,"c":"O"},{"r":142,"s":1,"e":6,"c":"R"},{"r":142,"s":7,"e":28,"c":"P"},{"r":142,"s":29,"e":31,"c":"R"},{"r":142,"s":32,"e":35,"c":"M"},{"r":142,"s":36,"e":39,"c":"R"},{"r":142,"s":40,"e":43,"c":"M"},{"r":142,"s":44,"e":47,"c":"R"},{"r":142,"s":48,"e":52,"c":"M"},{"r":142,"s":53,"e":56,"c":"R"},{"r":142,"s":57,"e":61,"c":"O"},
      {"r":143,"s":0,"e":0,"c":"O"},{"r":143,"s":1,"e":4,"c":"R"},{"r":143,"s":5,"e":8,"c":"M"},{"r":143,"s":9,"e":12,"c":"R"},{"r":143,"s":13,"e":17,"c":"M"},{"r":143,"s":18,"e":21,"c":"R"},{"r":143,"s":22,"e":26,"c":"M"},{"r":143,"s":27,"e":31,"c":"R"},{"r":143,"s":32,"e":36,"c":"M"},{"r":143,"s":37,"e":41,"c":"R"},{"r":143,"s":42,"e":45,"c":"M"},{"r":143,"s":46,"e":50,"c":"R"},{"r":143,"s":51,"e":54,"c":"M"},{"r":143,"s":55,"e":59,"c":"R"},{"r":143,"s":60,"e":63,"c":"M"},
      {"r":144,"s":0,"e":0,"c":"O"},{"r":144,"s":1,"e":7,"c":"R"},{"r":144,"s":8,"e":11,"c":"M"},{"r":144,"s":12,"e":16,"c":"R"},{"r":144,"s":17,"e":21,"c":"M"},{"r":144,"s":22,"e":25,"c":"R"},{"r":144,"s":26,"e":30,"c":"M"},{"r":144,"s":31,"e":35,"c":"R"},{"r":144,"s":36,"e":40,"c":"M"},{"r":144,"s":41,"e":45,"c":"R"},{"r":144,"s":46,"e":49,"c":"M"},{"r":144,"s":50,"e":54,"c":"R"},{"r":144,"s":55,"e":58,"c":"M"},{"r":144,"s":59,"e":62,"c":"R"},{"r":144,"s":63,"e":66,"c":"O"},
      {"r":145,"s":0,"e":0,"c":"O"},{"r":145,"s":1,"e":5,"c":"R"},{"r":145,"s":6,"e":9,"c":"M"},{"r":145,"s":10,"e":14,"c":"R"},{"r":145,"s":15,"e":19,"c":"M"},{"r":145,"s":20,"e":24,"c":"R"},{"r":145,"s":25,"e":29,"c":"M"},{"r":145,"s":30,"e":34,"c":"R"},{"r":145,"s":35,"e":38,"c":"M"},{"r":145,"s":39,"e":44,"c":"R"},{"r":145,"s":45,"e":49,"c":"M"},{"r":145,"s":50,"e":54,"c":"R"},{"r":145,"s":55,"e":58,"c":"P"},{"r":145,"s":59,"e":63,"c":"M"},{"r":145,"s":64,"e":67,"c":"R"},{"r":145,"s":68,"e":71,"c":"O"},
      {"r":146,"s":0,"e":0,"c":"O"},{"r":146,"s":1,"e":5,"c":"R"},{"r":146,"s":6,"e":10,"c":"M"},{"r":146,"s":11,"e":15,"c":"R"},{"r":146,"s":16,"e":20,"c":"M"},{"r":146,"s":21,"e":26,"c":"R"},{"r":146,"s":27,"e":31,"c":"M"},{"r":146,"s":32,"e":36,"c":"R"},{"r":146,"s":37,"e":41,"c":"M"},{"r":146,"s":42,"e":47,"c":"R"},{"r":146,"s":48,"e":52,"c":"M"},{"r":146,"s":53,"e":57,"c":"R"},{"r":146,"s":58,"e":62,"c":"M"},{"r":146,"s":63,"e":67,"c":"R"},{"r":146,"s":68,"e":71,"c":"M"},{"r":146,"s":72,"e":75,"c":"O"},
      {"r":147,"s":0,"e":0,"c":"O"},{"r":147,"s":1,"e":8,"c":"R"},{"r":147,"s":9,"e":53,"c":"P"},{"r":147,"s":54,"e":57,"c":"R"},{"r":147,"s":58,"e":61,"c":"M"},{"r":147,"s":62,"e":66,"c":"P"},{"r":147,"s":67,"e":70,"c":"R"},{"r":147,"s":71,"e":75,"c":"O"},{"r":147,"s":76,"e":80,"c":"R"},
      {"r":148,"s":0,"e":0,"c":"O"},{"r":148,"s":1,"e":6,"c":"R"},{"r":148,"s":7,"e":12,"c":"M"},{"r":148,"s":13,"e":18,"c":"R"},{"r":148,"s":19,"e":24,"c":"M"},{"r":148,"s":25,"e":30,"c":"R"},{"r":148,"s":31,"e":36,"c":"M"},{"r":148,"s":37,"e":42,"c":"R"},{"r":148,"s":43,"e":48,"c":"M"},{"r":148,"s":49,"e":54,"c":"R"},{"r":148,"s":55,"e":60,"c":"P"},{"r":148,"s":61,"e":66,"c":"R"},{"r":148,"s":67,"e":71,"c":"M"},{"r":148,"s":72,"e":79,"c":"P"},{"r":148,"s":80,"e":83,"c":"R"},{"r":148,"s":84,"e":86,"c":"P"},
      {"r":149,"s":0,"e":0,"c":"O"},{"r":149,"s":1,"e":10,"c":"R"},{"r":149,"s":11,"e":20,"c":"M"},{"r":149,"s":21,"e":28,"c":"R"},{"r":149,"s":29,"e":40,"c":"M"},{"r":149,"s":41,"e":48,"c":"R"},{"r":149,"s":49,"e":60,"c":"M"},{"r":149,"s":61,"e":66,"c":"R"},{"r":149,"s":67,"e":94,"c":"M"}
    ]
  },
  "transform": [
    {"calculate": "datum.s - 0.5", "as": "x0"},
    {"calculate": "datum.e + 0.5", "as": "x1"}
  ],
  "mark": {"type": "rect"},
  "encoding": {
    "x": {
      "field": "x0",
      "type": "quantitative",
      "scale": {"domain": [-0.48, 99.2], "nice": false, "zero": false},
      "axis": {
        "values": [0, 14, 28, 42, 56, 70, 84, 98],
        "grid": false,
        "domainColor": "black",
        "domainWidth": 1.5,
        "tickColor": "black",
        "tickSize": 7,
        "tickWidth": 1.2,
        "labelFont": "Liberation Serif",
        "labelFontSize": 22,
        "labelColor": "#222222",
        "labelPadding": 5,
        "title": "First 100 days of life",
        "titleFont": "Liberation Serif",
        "titleFontSize": 27,
        "titleFontWeight": "normal",
        "titleColor": "black",
        "titlePadding": 5
      }
    },
    "x2": {"field": "x1"},
    "y": {
      "field": "r",
      "type": "ordinal",
      "scale": {"paddingInner": 0, "paddingOuter": 0},
      "axis": {
        "title": null,
        "labels": false,
        "ticks": false,
        "grid": false,
        "domainColor": "black",
        "domainWidth": 1.5
      }
    },
    "color": {
      "field": "c",
      "type": "nominal",
      "scale": {
        "domain": ["P", "R", "M", "O"],
        "range": ["#FDB6A8", "#7ECBBA", "#9EF0FA", "#C8848E"]
      },
      "legend": {
        "title": null,
        "orient": "none",
        "legendX": 894,
        "legendY": 199,
        "padding": 0,
        "symbolType": "square",
        "symbolSize": 1444,
        "symbolStrokeWidth": 0,
        "symbolOpacity": 1,
        "rowPadding": 0,
        "labelOffset": 14,
        "labelFont": "Liberation Serif",
        "labelFontSize": 23,
        "labelColor": "black",
        "labelLimit": 400,
        "labelExpr": "datum.label == 'P' ? 'Pasteurised HM' : datum.label == 'R' ? 'Raw HM' : datum.label == 'M' ? 'Pastuerised and Raw HM' : 'Other Nutrition*'"
      }
    }
  }
}
